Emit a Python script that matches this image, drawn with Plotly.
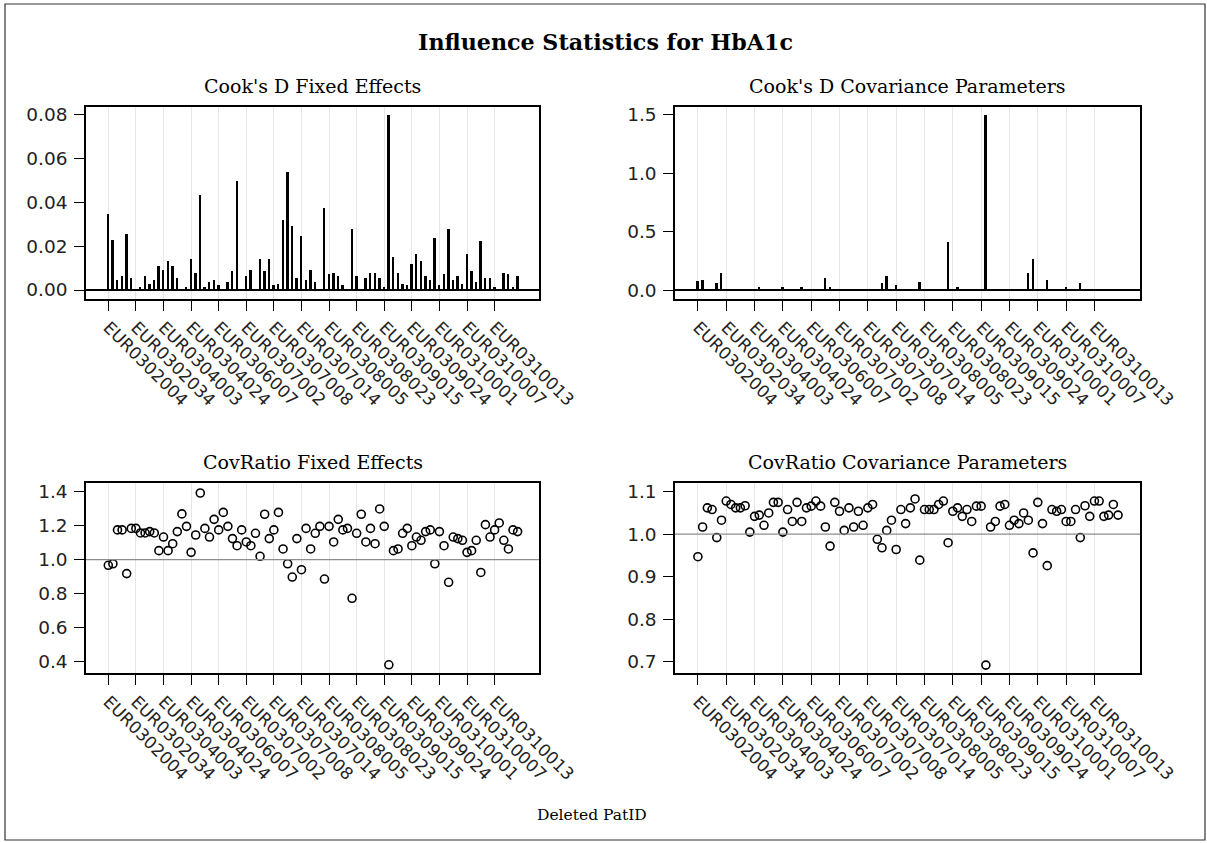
import plotly.graph_objects as go

pat_ids = [
    "EUR0302004", "EUR0302009", "EUR0302014", "EUR0302019", "EUR0302024", "EUR0302029",
    "EUR0302034", "EUR0302036", "EUR0302039", "EUR0303002", "EUR0303005", "EUR0304001",
    "EUR0304003", "EUR0304006", "EUR0304010", "EUR0304014", "EUR0304017", "EUR0304021",
    "EUR0304024", "EUR0304027", "EUR0305002", "EUR0305005", "EUR0306002", "EUR0306004",
    "EUR0306007", "EUR0306010", "EUR0306013", "EUR0306016", "EUR0306019", "EUR0307001",
    "EUR0307002", "EUR0307003", "EUR0307004", "EUR0307005", "EUR0307006", "EUR0307007",
    "EUR0307008", "EUR0307009", "EUR0307010", "EUR0307011", "EUR0307012", "EUR0307013",
    "EUR0307014", "EUR0307016", "EUR0307018", "EUR0308001", "EUR0308002", "EUR0308004",
    "EUR0308005", "EUR0308008", "EUR0308011", "EUR0308014", "EUR0308017", "EUR0308020",
    "EUR0308023", "EUR0308026", "EUR0309003", "EUR0309006", "EUR0309009", "EUR0309012",
    "EUR0309015", "EUR0309016", "EUR0309018", "EUR0309020", "EUR0309021", "EUR0309023",
    "EUR0309024", "EUR0309026", "EUR0309028", "EUR0309030", "EUR0309032", "EUR0309034",
    "EUR0310001", "EUR0310002", "EUR0310003", "EUR0310004", "EUR0310005", "EUR0310006",
    "EUR0310007", "EUR0310008", "EUR0310009", "EUR0310010", "EUR0310011", "EUR0310012",
    "EUR0310013", "EUR0310014", "EUR0310015", "EUR0310016", "EUR0310017", "EUR0310018",
]

tick_labels = [
    "EUR0302004", "EUR0302034", "EUR0304003", "EUR0304024", "EUR0306007",
    "EUR0307002", "EUR0307008", "EUR0307014", "EUR0308005", "EUR0308023",
    "EUR0309015", "EUR0309024", "EUR0310001", "EUR0310007", "EUR0310013",
]

cooks_d_fixed = [
    0.0348, 0.0230, 0.0045, 0.0064, 0.0255, 0.0056, 0.0002, 0.0015, 0.0064, 0.0030,
    0.0045, 0.0110, 0.0094, 0.0135, 0.0110, 0.0056, 0.0003, 0.0015, 0.0142, 0.0080,
    0.0436, 0.0015, 0.0038, 0.0045, 0.0026, 0.0003, 0.0038, 0.0088, 0.0500, 0.0008,
    0.0064, 0.0094, 0.0008, 0.0142, 0.0088, 0.0142, 0.0026, 0.0030, 0.0318, 0.0541,
    0.0294, 0.0056, 0.0247, 0.0045, 0.0094, 0.0038, 0.0003, 0.0373, 0.0073, 0.0080,
    0.0064, 0.0026, 0.0008, 0.0279, 0.0064, 0.0002, 0.0056, 0.0080, 0.0080, 0.0056,
    0.0015, 0.0797, 0.0152, 0.0080, 0.0030, 0.0026, 0.0121, 0.0167, 0.0135, 0.0064,
    0.0045, 0.0240, 0.0026, 0.0073, 0.0279, 0.0045, 0.0064, 0.0030, 0.0167, 0.0088,
    0.0038, 0.0223, 0.0056, 0.0056, 0.0015, 0.0008, 0.0080, 0.0073, 0.0015, 0.0064,
]

cooks_d_cov = [
    0.077, 0.091, 0.003, 0.003, 0.060, 0.149, 0.012, 0.003, 0.003, 0.003,
    0.003, 0.012, 0.012, 0.030, 0.003, 0.003, 0.012, 0.012, 0.030, 0.003,
    0.003, 0.012, 0.030, 0.003, 0.003, 0.012, 0.003, 0.106, 0.030, 0.012,
    0.012, 0.012, 0.003, 0.012, 0.003, 0.003, 0.003, 0.012, 0.012, 0.060,
    0.120, 0.012, 0.046, 0.003, 0.003, 0.003, 0.012, 0.074, 0.012, 0.003,
    0.003, 0.012, 0.012, 0.417, 0.003, 0.030, 0.003, 0.003, 0.003, 0.003,
    0.012, 1.500, 0.012, 0.003, 0.003, 0.003, 0.003, 0.003, 0.003, 0.003,
    0.149, 0.269, 0.012, 0.003, 0.091, 0.003, 0.003, 0.012, 0.030, 0.003,
    0.012, 0.060, 0.003, 0.012, 0.012, 0.012, 0.003, 0.003, 0.003, 0.003,
]

covratio_fixed = [
    0.967, 0.976, 1.175, 1.175, 0.918, 1.184, 1.184, 1.157, 1.157, 1.165,
    1.157, 1.053, 1.133, 1.053, 1.094, 1.165, 1.269, 1.196, 1.043, 1.145,
    1.392, 1.184, 1.133, 1.237, 1.175, 1.278, 1.196, 1.124, 1.082, 1.175,
    1.104, 1.082, 1.155, 1.020, 1.267, 1.124, 1.175, 1.278, 1.063, 0.976,
    0.898, 1.124, 0.941, 1.184, 1.063, 1.155, 1.196, 0.886, 1.196, 1.104,
    1.237, 1.175, 1.184, 0.773, 1.155, 1.267, 1.104, 1.184, 1.094, 1.298,
    1.196, 0.382, 1.053, 1.063, 1.155, 1.184, 1.082, 1.133, 1.114, 1.165,
    1.175, 0.976, 1.165, 1.082, 0.867, 1.133, 1.124, 1.114, 1.043, 1.053,
    1.114, 0.925, 1.206, 1.133, 1.175, 1.216, 1.114, 1.063, 1.175, 1.165,
]

covratio_cov = [
    0.947, 1.017, 1.062, 1.058, 0.992, 1.033, 1.078, 1.070, 1.062, 1.062,
    1.067, 1.005, 1.042, 1.045, 1.021, 1.050, 1.075, 1.075, 1.005, 1.058,
    1.030, 1.075, 1.030, 1.062, 1.066, 1.078, 1.066, 1.017, 0.972, 1.075,
    1.054, 1.009, 1.062, 1.017, 1.054, 1.021, 1.062, 1.070, 0.988, 0.968,
    1.009, 1.033, 0.964, 1.058, 1.025, 1.062, 1.083, 0.939, 1.058, 1.058,
    1.058, 1.070, 1.078, 0.980, 1.054, 1.062, 1.042, 1.058, 1.030, 1.066,
    1.066, 0.692, 1.017, 1.030, 1.066, 1.070, 1.021, 1.033, 1.025, 1.050,
    1.033, 0.956, 1.075, 1.025, 0.926, 1.058, 1.054, 1.058, 1.030, 1.030,
    1.058, 0.992, 1.067, 1.042, 1.078, 1.078, 1.042, 1.045, 1.070, 1.045,
]

W, H = 1207, 843
SERIF = "DejaVu Serif"
SANS = "DejaVu Sans"


def px_x(x):
    return x / W


def px_y(y):
    return 1 - y / H


fig = go.Figure()

fig.add_trace(go.Bar(x=pat_ids, y=cooks_d_fixed, width=0.42, marker=dict(color="black", line=dict(width=0)),
                     xaxis="x", yaxis="y", showlegend=False))
fig.add_trace(go.Bar(x=pat_ids, y=cooks_d_cov, width=0.42, marker=dict(color="black", line=dict(width=0)),
                     xaxis="x2", yaxis="y2", showlegend=False))
fig.add_trace(go.Scatter(x=pat_ids, y=covratio_fixed, mode="markers",
                         marker=dict(symbol="circle-open", size=8, color="black", line=dict(width=1.6)),
                         xaxis="x3", yaxis="y3", showlegend=False))
fig.add_trace(go.Scatter(x=pat_ids, y=covratio_cov, mode="markers",
                         marker=dict(symbol="circle-open", size=8, color="black", line=dict(width=1.6)),
                         xaxis="x4", yaxis="y4", showlegend=False))

left_dom = [px_x(86), px_x(539)]
right_dom = [px_x(675), px_x(1140)]
top_dom = [px_y(299), px_y(106.7)]
bot_dom = [px_y(673.3), px_y(483.3)]

xcommon = dict(type="category", categoryorder="array", categoryarray=pat_ids,
               tickmode="array", tickvals=tick_labels, ticktext=tick_labels,
               tickangle=45, range=[-4.85, 93.65], automargin=False,
               showgrid=True, gridcolor="#e6e6e6", gridwidth=1,
               showline=True, linecolor="black", linewidth=1.5, mirror=True,
               ticks="outside", ticklen=10, tickcolor="black", tickwidth=1.3,
               tickfont=dict(family=SANS, size=17, color="#222"), zeroline=False, fixedrange=True)
ycommon = dict(showgrid=False, zeroline=False, automargin=False,
               showline=True, linecolor="black", linewidth=1.5, mirror=True,
               ticks="outside", ticklen=10, tickcolor="black", tickwidth=1.3,
               ticklabelstandoff=3,
               tickfont=dict(family=SANS, size=18.5, color="#222"), fixedrange=True)

fig.update_layout(
    width=W, height=H, autosize=False,
    margin=dict(l=0, r=0, t=0, b=0, pad=0, autoexpand=False),
    paper_bgcolor="white", plot_bgcolor="white",
    bargap=0,
    xaxis=dict(xcommon, domain=left_dom, anchor="y"),
    yaxis=dict(ycommon, domain=top_dom, anchor="x", range=[-0.0041, 0.0835],
               tickvals=[0, 0.02, 0.04, 0.06, 0.08], ticktext=["0.00", "0.02", "0.04", "0.06", "0.08"]),
    xaxis2=dict(xcommon, domain=right_dom, anchor="y2"),
    yaxis2=dict(ycommon, domain=top_dom, anchor="x2", range=[-0.077, 1.571],
                tickvals=[0, 0.5, 1.0, 1.5], ticktext=["0.0", "0.5", "1.0", "1.5"]),
    xaxis3=dict(xcommon, domain=left_dom, anchor="y3"),
    yaxis3=dict(ycommon, domain=bot_dom, anchor="x3", range=[0.332, 1.449],
                tickvals=[0.4, 0.6, 0.8, 1.0, 1.2, 1.4], ticktext=["0.4", "0.6", "0.8", "1.0", "1.2", "1.4"]),
    xaxis4=dict(xcommon, domain=right_dom, anchor="y4"),
    yaxis4=dict(ycommon, domain=bot_dom, anchor="x4", range=[0.6727, 1.1198],
                tickvals=[0.7, 0.8, 0.9, 1.0, 1.1], ticktext=["0.7", "0.8", "0.9", "1.0", "1.1"]),
)

# reference lines and outer frame
shapes = [
    dict(type="line", xref="x domain", yref="y", x0=0, x1=1, y0=0, y1=0,
         line=dict(color="black", width=2)),
    dict(type="line", xref="x2 domain", yref="y2", x0=0, x1=1, y0=0, y1=0,
         line=dict(color="black", width=2)),
    dict(type="line", xref="x3 domain", yref="y3", x0=0, x1=1, y0=1.0, y1=1.0,
         line=dict(color="#8c8c8c", width=1.2)),
    dict(type="line", xref="x4 domain", yref="y4", x0=0, x1=1, y0=1.0, y1=1.0,
         line=dict(color="#8c8c8c", width=1.2)),
    dict(type="rect", xref="paper", yref="paper", x0=px_x(5), x1=px_x(1205), y0=px_y(840), y1=px_y(4),
         line=dict(color="#333333", width=1.2), layer="below"),
]
fig.update_layout(shapes=shapes)

annotations = [
    dict(text="<b>Influence Statistics for HbA1c</b>", x=px_x(605), y=px_y(42), xref="paper", yref="paper",
         showarrow=False, xanchor="center", yanchor="middle", font=dict(family=SERIF, size=22.2, color="black")),
    dict(text="Cook's D Fixed Effects", x=(left_dom[0] + left_dom[1]) / 2, y=px_y(86), xref="paper", yref="paper",
         showarrow=False, xanchor="center", yanchor="middle", font=dict(family=SERIF, size=19, color="black")),
    dict(text="Cook's D Covariance Parameters", x=(right_dom[0] + right_dom[1]) / 2, y=px_y(86), xref="paper",
         yref="paper", showarrow=False, xanchor="center", yanchor="middle",
         font=dict(family=SERIF, size=19, color="black")),
    dict(text="CovRatio Fixed Effects", x=(left_dom[0] + left_dom[1]) / 2, y=px_y(462), xref="paper", yref="paper",
         showarrow=False, xanchor="center", yanchor="middle", font=dict(family=SERIF, size=19, color="black")),
    dict(text="CovRatio Covariance Parameters", x=(right_dom[0] + right_dom[1]) / 2, y=px_y(462), xref="paper",
         yref="paper", showarrow=False, xanchor="center", yanchor="middle",
         font=dict(family=SERIF, size=19, color="black")),
    dict(text="Deleted PatID", x=px_x(592), y=px_y(815), xref="paper", yref="paper",
         showarrow=False, xanchor="center", yanchor="middle", font=dict(family=SERIF, size=15.5, color="black")),
]
fig.update_layout(annotations=annotations)

fig.write_html("out.html")
